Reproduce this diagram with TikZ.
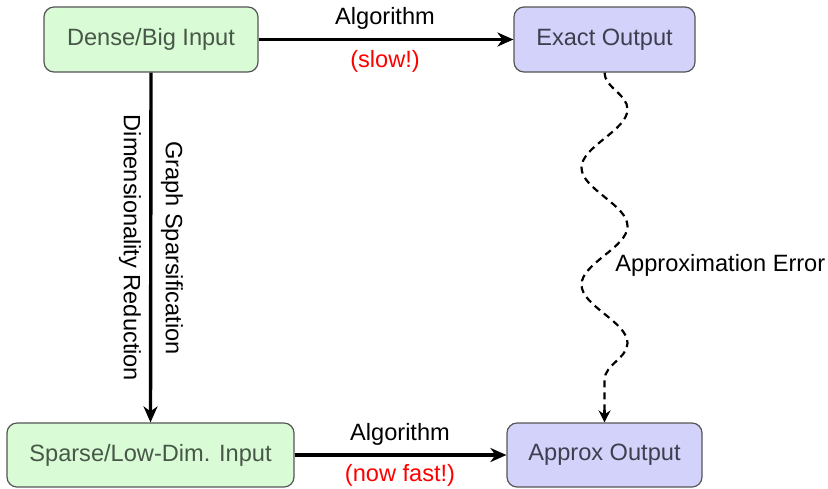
\documentclass[tikz,border=0pt]{standalone}
\usepackage{fontspec}
\setmainfont{Liberation Sans}
\usetikzlibrary{arrows.meta,decorations.pathmorphing}
\definecolor{gfill}{RGB}{217,251,214}
\definecolor{bfill}{RGB}{210,210,250}
\definecolor{gtext}{RGB}{72,88,72}
\definecolor{btext}{RGB}{62,62,78}
\definecolor{bordc}{RGB}{85,85,85}
\tikzset{
  box/.style={draw=bordc, line width=0.6pt, rounded corners=5pt, inner sep=0pt, align=center},
  gbox/.style={box, fill=gfill, text=gtext},
  bbox/.style={box, fill=bfill, text=btext},
  thickarrow/.style={line width=1.7pt, -{Stealth[length=8pt,width=7pt,inset=2.5pt]}},
  lbl/.style={inner sep=0pt},
  redlbl/.style={lbl, text=red},
}
\begin{document}
\begin{tikzpicture}[x=0.5pt,y=-0.5pt,font=\fontsize{11.8}{14}\selectfont]
\useasboundingbox (0,0) rectangle (828,488);
\node[gbox, minimum width=107pt, minimum height=32.5pt] (dense) at (151,39.5) {Dense/Big Input};
\node[bbox, minimum width=90.5pt, minimum height=32.5pt] (exact) at (604.5,39.5) {Exact Output};
\node[gbox, minimum width=143.5pt, minimum height=32pt] (sparse) at (150.5,455) {Sparse/Low-Dim. Input};
\node[bbox, minimum width=97.5pt, minimum height=32pt] (approx) at (604.5,455) {Approx Output};

\draw[thickarrow] (dense.east) -- (exact.west);
\node[lbl] (alg1) at (385,18) {Algorithm};
\node[redlbl] (slow) at (385,61) {(slow!)};

\draw[thickarrow] (sparse.east) -- (approx.west);
\node[lbl] (alg2) at (400,434) {Algorithm};
\node[redlbl] (fast) at (400,475) {(now fast!)};

\draw[thickarrow] (dense.south) -- (sparse.north);
\node[lbl, rotate=-90] (gs) at (172,248) {Graph Sparsification};
\node[lbl, rotate=-90] (dr) at (130,248) {Dimensionality Reduction};

\draw[line width=1.1pt, dash pattern=on 3.5pt off 2.5pt,
      decorate, decoration={snake, segment length=58.5pt, amplitude=11.5pt, post length=13pt}]
  (exact.south) -- ([yshift=3pt]approx.north);
\draw[line width=1.1pt, -{Stealth[length=6pt,width=6pt,inset=2pt]}] ([yshift=6pt]approx.north) -- (approx.north);
\node[lbl, anchor=west] (err) at (615,265) {Approximation Error};
\end{tikzpicture}
\end{document}
